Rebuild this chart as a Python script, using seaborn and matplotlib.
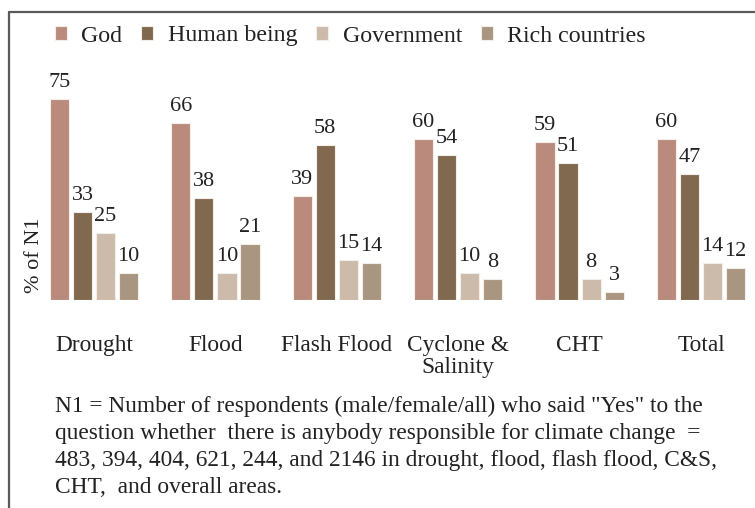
import matplotlib
matplotlib.use("Agg")
import matplotlib.pyplot as plt
from matplotlib.lines import Line2D
import pandas as pd
import seaborn as sns

# Survey results: share of N1 naming each party as responsible for climate change
areas = ["Drought", "Flood", "Flash Flood", "Cyclone &\nSalinity", "CHT", "Total"]
responsible = ["God", "Human being", "Government", "Rich countries"]
god = [75, 66, 39, 60, 59, 60]
human_being = [33, 38, 58, 54, 51, 47]
government = [25, 10, 15, 10, 8, 14]
rich_countries = [10, 21, 14, 8, 3, 12]
palette = ["#BA8B7C", "#80694E", "#CCBBAA", "#A99680"]

note = ('N1 = Number of respondents (male/female/all) who said "Yes" to the\n'
        'question whether  there is anybody responsible for climate change  =\n'
        '483, 394, 404, 621, 244, and 2146 in drought, flood, flash flood, C&S,\n'
        'CHT,  and overall areas.')

rows = []
for name, vals in zip(responsible, [god, human_being, government, rich_countries]):
    for area, v in zip(areas, vals):
        rows.append({"Area": area, "Responsible": name, "Percent": v})
df = pd.DataFrame(rows)

sns.set_theme(style="white")
plt.rcParams["font.family"] = ["Liberation Serif", "DejaVu Serif"]
plt.rcParams["text.color"] = "#222222"

W, H = 755, 508
fig = plt.figure(figsize=(W / 100, H / 100), dpi=100)
ax_l, ax_r, ax_t, ax_b = 45, 750, 60, 300
ax = fig.add_axes([ax_l / W, 1 - ax_b / H, (ax_r - ax_l) / W, (ax_b - ax_t) / H])

sns.barplot(data=df, x="Area", y="Percent", hue="Responsible", order=areas,
            hue_order=responsible, palette=palette, width=0.76, gap=0.17,
            saturation=1, edgecolor="#f4eeea", linewidth=0.8, ax=ax)

for cont in ax.containers:
    ax.bar_label(cont, padding=5, fontsize=16, color="#222222")

ax.set_xlim(-0.404, 5.404)
ax.set_ylim(0, 89.6)
ax.set_yticks([])
ax.set_xlabel("")
ax.set_ylabel("% of N1", fontsize=16, color="#222222")
ax.yaxis.set_label_coords(-0.001, 0.1875)
ax.tick_params(axis="x", length=0, pad=25, labelsize=16.8, labelcolor="#222222")
for lbl in ax.get_xticklabels():
    lbl.set_linespacing(1.1)
for s in ax.spines.values():
    s.set_visible(False)

leg = ax.legend(loc="center left", bbox_to_anchor=(55 / W, 1 - 36 / H),
                bbox_transform=fig.transFigure, ncol=4, frameon=False,
                fontsize=17.2, handlelength=0.5, handleheight=0.55,
                handletextpad=0.6, columnspacing=0.8, borderaxespad=0,
                borderpad=0)

fig.text(55 / W, 1 - 396 / H, note, fontsize=16.8, va="top", ha="left",
         linespacing=1.38, color="#222222")

# frame lines along top and left edges
frame_kw = dict(color="#5a5a5a", linewidth=1.6, transform=fig.transFigure)
fig.add_artist(Line2D([9 / W, 1.0], [1 - 11.5 / H, 1 - 11.5 / H], **frame_kw))
fig.add_artist(Line2D([9 / W, 9 / W], [0.0, 1 - 11.5 / H], **frame_kw))

fig.savefig("out.png", dpi=100)
